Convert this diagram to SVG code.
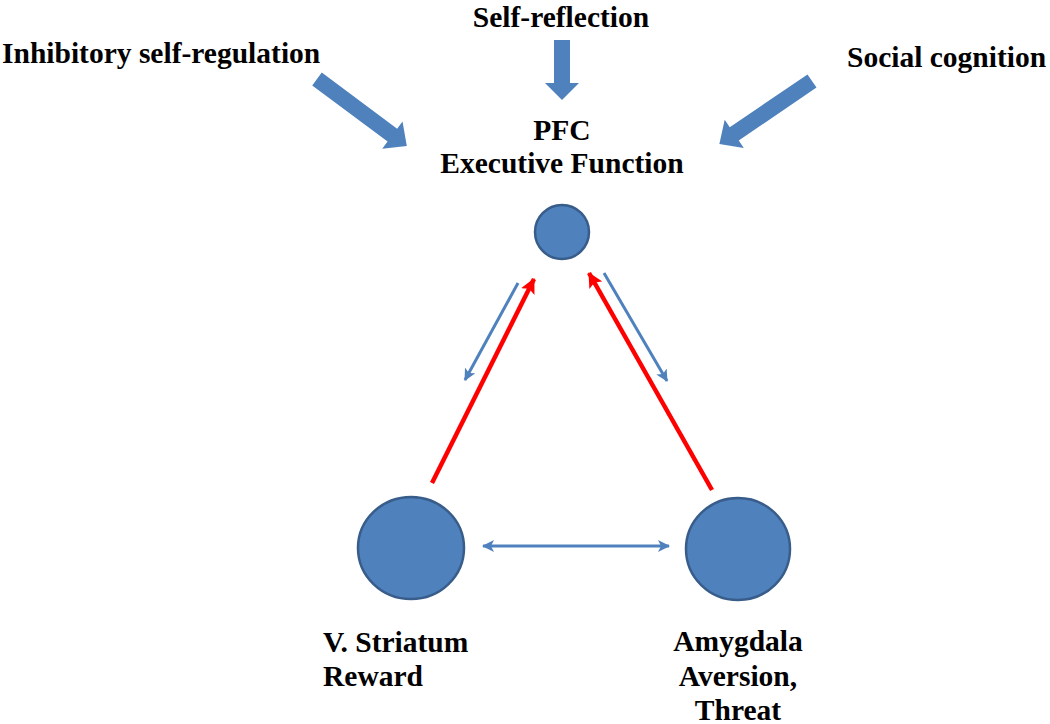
<svg xmlns="http://www.w3.org/2000/svg" width="1050" height="724" viewBox="0 0 1050 724">
<defs>
<style>
.t{font-family:"Liberation Serif","Times New Roman",serif;font-weight:bold;font-size:29.5px;fill:#000}
.node{fill:#4f81bd;stroke:#385d8a;stroke-width:2.5}
.big{fill:#4f81bd}
.blue{stroke:#4f81bd;stroke-width:3;fill:none}
.red{stroke:#ff0000;stroke-width:4.5;fill:none}
</style>
<marker id="hb" markerUnits="userSpaceOnUse" viewBox="0 0 12 12" refX="11" refY="6" markerWidth="12" markerHeight="12" orient="auto-start-reverse">
<path d="M0,0 L12,6 L0,12 L3,6 Z" fill="#4f81bd"/>
</marker>
<marker id="hr" markerUnits="userSpaceOnUse" viewBox="0 0 15 15" refX="14" refY="7.5" markerWidth="15" markerHeight="15" orient="auto">
<path d="M0,0 L15,7.5 L0,15 L3,7.5 Z" fill="#ff0000"/>
</marker>
<path id="block" d="M0,-8 L94,-8 L94,-17 L112,0 L94,17 L94,8 L0,8 Z"/>
</defs>
<rect width="1050" height="724" fill="#fff"/>
<g id="inputs">
<g id="inhibitory">
<text class="t" x="2" y="63">Inhibitory self-regulation</text>
<use href="#block" class="big" transform="translate(317,79) rotate(36.7)"/>
</g>
<g id="self-reflection">
<text class="t" x="561" y="27" text-anchor="middle">Self-reflection</text>
<path class="big" d="M554,40 L570,40 L570,83 L579,83 L562,100 L545,83 L554,83 Z"/>
</g>
<g id="social">
<text class="t" x="847" y="67">Social cognition</text>
<use href="#block" class="big" transform="translate(812,81) rotate(145.8)"/>
</g>
</g>
<g id="pfc">
<text class="t" x="562" y="140" text-anchor="middle">PFC</text>
<text class="t" x="562" y="173" text-anchor="middle">Executive Function</text>
<circle class="node" cx="562" cy="232" r="27"/>
</g>
<g id="striatum">
<ellipse class="node" cx="411" cy="548" rx="53" ry="51"/>
<text class="t" x="323" y="652">V. Striatum</text>
<text class="t" x="323" y="686">Reward</text>
</g>
<g id="amygdala">
<ellipse class="node" cx="738" cy="549" rx="52" ry="51"/>
<text class="t" x="738" y="651" text-anchor="middle">Amygdala</text>
<text class="t" x="738" y="686" text-anchor="middle">Aversion,</text>
<text class="t" x="738" y="720" text-anchor="middle">Threat</text>
</g>
<g id="connectors">
<line class="red" x1="432" y1="483" x2="534" y2="279" marker-end="url(#hr)"/>
<line class="red" x1="712" y1="490" x2="589" y2="273" marker-end="url(#hr)"/>
<line class="blue" x1="518" y1="283" x2="465" y2="380" marker-end="url(#hb)"/>
<line class="blue" x1="604" y1="273" x2="667" y2="381" marker-end="url(#hb)"/>
<line class="blue" x1="483" y1="546" x2="669" y2="546" marker-start="url(#hb)" marker-end="url(#hb)"/>
</g>
</svg>
